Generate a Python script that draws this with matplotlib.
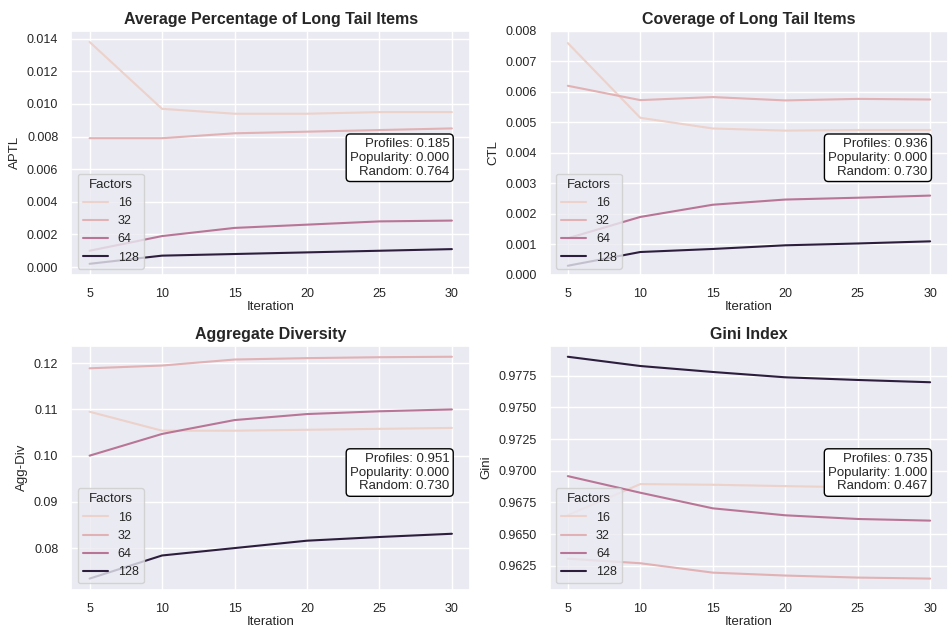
import numpy as np
import pandas as pd
import matplotlib
matplotlib.use('Agg')
import matplotlib.pyplot as plt
import seaborn as sns

iterations = [5, 10, 15, 20, 25, 30]
factors = [16, 32, 64, 128]

aptl = {
    16:  [0.0138, 0.0097, 0.0094, 0.0094, 0.0095, 0.0095],
    32:  [0.0079, 0.0079, 0.0082, 0.0083, 0.0084, 0.0085],
    64:  [0.0010, 0.0019, 0.0024, 0.0026, 0.0028, 0.00285],
    128: [0.0002, 0.0007, 0.0008, 0.0009, 0.0010, 0.0011],
}
ctl = {
    16:  [0.0076, 0.00515, 0.0048, 0.00473, 0.00475, 0.00475],
    32:  [0.0062, 0.00573, 0.00583, 0.00572, 0.00577, 0.00575],
    64:  [0.0012, 0.0019, 0.0023, 0.00247, 0.00253, 0.0026],
    128: [0.0003, 0.00075, 0.00085, 0.00097, 0.00103, 0.0011],
}
aggdiv = {
    16:  [0.1095, 0.1054, 0.1054, 0.1056, 0.1058, 0.1060],
    32:  [0.1189, 0.1195, 0.1208, 0.1211, 0.1213, 0.1214],
    64:  [0.1000, 0.1047, 0.1077, 0.1090, 0.1096, 0.1100],
    128: [0.0734, 0.0784, 0.0800, 0.0816, 0.0824, 0.0831],
}
gini = {
    16:  [0.9665, 0.96895, 0.9689, 0.96879, 0.9687, 0.9686],
    32:  [0.96307, 0.96271, 0.96197, 0.96174, 0.96158, 0.9615],
    64:  [0.96958, 0.96827, 0.96704, 0.96649, 0.9662, 0.96607],
    128: [0.97899, 0.97826, 0.97779, 0.97737, 0.97716, 0.97698],
}

titles = ['Average Percentage of Long Tail Items', 'Coverage of Long Tail Items',
          'Aggregate Diversity', 'Gini Index']
ylabels = ['APTL', 'CTL', 'Agg-Div', 'Gini']
scores = [
    'Profiles: 0.185\nPopularity: 0.000\nRandom: 0.764',
    'Profiles: 0.936\nPopularity: 0.000\nRandom: 0.730',
    'Profiles: 0.951\nPopularity: 0.000\nRandom: 0.730',
    'Profiles: 0.735\nPopularity: 1.000\nRandom: 0.467',
]


def to_frame(series, name):
    rows = []
    for f in factors:
        for it, v in zip(iterations, series[f]):
            rows.append({'Iteration': it, 'Factors': f, name: v})
    return pd.DataFrame(rows)


sns.set_theme(style='darkgrid')
plt.rcParams['font.family'] = ['Liberation Sans', 'DejaVu Sans']
plt.rcParams.update({
    'xtick.labelsize': 9, 'ytick.labelsize': 9,
    'axes.labelsize': 9.5, 'axes.titlesize': 11.5,
    'legend.fontsize': 9, 'legend.title_fontsize': 9.5,
})

fig, axes = plt.subplots(2, 2, figsize=(9.53, 6.3), dpi=100)
fig.subplots_adjust(left=0.075, right=0.995, top=0.951, bottom=0.064,
                    wspace=0.2, hspace=0.29)
data = [aptl, ctl, aggdiv, gini]

for ax, d, title, ylab, txt in zip(axes.flat, data, titles, ylabels, scores):
    df = to_frame(d, ylab)
    sns.lineplot(data=df, x='Iteration', y=ylab, hue='Factors', legend='full', ax=ax)
    ax.set_title(title, fontweight='bold', pad=5)
    ax.xaxis.labelpad = 1
    ax.legend(title='Factors', loc='lower left')
    ax.text(0.948, 0.48, txt, transform=ax.transAxes, ha='right', va='center',
            fontsize=9.5,
            bbox=dict(boxstyle='round', facecolor='white', edgecolor='black'))

axes[0, 0].set_yticks(np.arange(0, 0.0141, 0.002))
axes[0, 1].set_ylim(0, 0.008)
axes[0, 1].set_yticks(np.arange(0, 0.0081, 0.001))
axes[1, 1].set_yticks([0.9625, 0.9650, 0.9675, 0.9700, 0.9725, 0.9750, 0.9775])
axes[1, 1].yaxis.set_major_formatter(matplotlib.ticker.FormatStrFormatter('%.4f'))

fig.savefig('out.png', dpi=100)
